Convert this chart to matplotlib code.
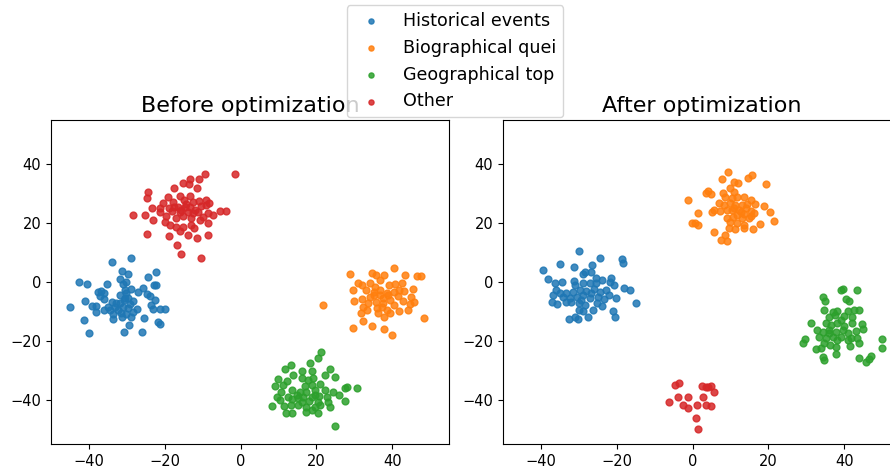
import matplotlib
matplotlib.use("Agg")
import matplotlib.pyplot as plt

categorie = ["Historical events", "Biographical quei", "Geographical top", "Other"]
colori = ["tab:blue", "tab:orange", "tab:green", "tab:red"]
titoli = ["Before optimization", "After optimization"]

# prima dell'ottimizzazione
prima_hist_x = [-28.8, -33.8, -31.4, -29.6, -22.4, -24.5, -42.7, -40.5, -35.1, -31.9, -31.0, -30.1,
                -22.9, -22.4, -25.7, -27.0, -28.8, -37.6, -36.7, -36.1, -37.2, -36.0, -24.7, -24.0,
                -30.5, -33.8, -31.7, -30.1, -29.7, -28.4, -41.1, -39.1, -38.1, -45.1, -35.0, -33.2,
                -32.3, -31.0, -29.7, -29.1, -31.9, -38.1, -36.0, -33.7, -31.5, -30.1, -28.4, -23.1,
                -21.3, -20.0, -22.6, -23.5, -41.3, -33.7, -31.2, -25.4, -21.7, -21.3, -29.3, -40.1,
                -30.7, -26.0, -30.6, -30.8, -32.8, -28.8, -34.5, -27.3]
prima_hist_y = [8.2, 6.9, 3.8, 2.8, 3.4, 1.7, -0.1, -0.6, -0.6, 1.1, -0.7, 0.0,
                -1.1, -1.0, -2.1, -3.3, -2.4, -3.3, -3.1, -3.6, -4.7, -5.8, -4.0, -4.7,
                -5.5, -6.9, -4.4, -3.8, -5.5, -6.3, -6.6, -8.0, -8.1, -8.5, -8.4, -8.4,
                -9.5, -8.4, -8.9, -7.6, -7.0, -10.1, -9.5, -10.8, -10.4, -10.8, -10.2, -9.3,
                -9.3, -9.3, -6.1, -7.8, -12.9, -12.7, -12.0, -12.3, -13.7, -14.4, -14.5, -17.4,
                -16.9, -16.9, -2.7, -6.1, -7.2, -11.8, -9.4, -9.2]

prima_bio_x = [28.9, 34.8, 35.7, 37.9, 40.4, 43.4, 46.5, 47.6, 30.9, 32.1, 34.2, 36.8,
               39.2, 40.8, 42.5, 29.8, 33.0, 35.1, 36.8, 38.6, 40.4, 43.2, 45.6, 30.0,
               32.0, 34.2, 35.8, 37.7, 39.5, 41.5, 42.8, 44.9, 45.8, 44.6, 21.8, 32.4,
               33.3, 31.7, 35.9, 37.2, 38.6, 40.4, 41.9, 44.3, 36.4, 37.9, 48.3, 32.4,
               34.6, 29.8, 37.9, 39.9, 35.1, 36.8, 39.0, 37.7, 35.5, 41.7, 33.7, 39.5]
prima_bio_y = [2.7, 2.9, 2.3, 2.5, 4.9, 2.5, 2.1, 2.1, -0.5, -1.1, -0.5, 0.7,
               -0.9, -0.7, -0.5, -2.7, -2.7, -3.3, -2.7, -3.6, -3.3, -2.9, -2.4, -6.3,
               -5.9, -5.0, -6.7, -5.5, -6.1, -4.7, -6.3, -5.0, -6.9, -7.5, -7.8, -8.4,
               -9.5, -10.6, -8.7, -8.4, -9.5, -7.8, -9.8, -9.5, -10.6, -12.0, -12.1, -13.1,
               -15.1, -15.7, -16.0, -18.1, -4.4, -4.4, -4.4, -7.2, -1.6, -2.7, -7.2, -10.6]

prima_geo_x = [21.2, 20.5, 18.3, 13.2, 11.7, 16.1, 18.9, 23.6, 22.3, 24.8, 13.9, 9.8,
               12.2, 16.1, 19.2, 9.0, 11.3, 13.7, 17.0, 18.8, 20.9, 27.5, 30.7, 28.0,
               10.8, 15.7, 17.4, 19.6, 22.3, 24.5, 26.0, 9.5, 12.6, 14.8, 16.6, 18.8,
               20.8, 22.8, 10.4, 13.5, 16.1, 18.1, 20.5, 23.2, 27.5, 8.2, 11.5, 13.2,
               15.2, 17.4, 19.6, 23.6, 12.0, 13.7, 17.4, 18.8, 20.5, 24.9, 15.2, 19.6,
               17.9, 21.0]
prima_geo_y = [-23.8, -25.9, -27.6, -28.1, -29.6, -30.1, -30.1, -29.7, -31.5, -32.1, -31.5, -32.9,
               -33.7, -32.5, -32.5, -35.3, -34.9, -36.6, -35.3, -34.9, -34.7, -36.0, -36.0, -35.5,
               -37.2, -37.2, -37.2, -36.6, -36.6, -37.2, -38.3, -38.9, -38.9, -38.3, -38.9, -39.1,
               -38.6, -38.9, -40.2, -39.8, -40.6, -40.3, -40.6, -40.6, -40.3, -42.0, -42.0, -41.7,
               -41.7, -42.6, -42.3, -42.5, -44.6, -44.5, -44.0, -43.6, -44.5, -49.0, -39.5, -38.3,
               -33.4, -41.7]

prima_altro_x = [-1.4, -9.5, -13.2, -10.9, -15.2, -13.7, -11.6, -17.6, -24.3, -24.8, -19.1, -15.9,
                 -13.2, -20.4, -17.8, -15.0, -12.5, -10.9, -9.0, -8.3, -23.3, -21.2, -18.9, -16.5,
                 -14.7, -13.4, -12.1, -10.5, -9.0, -21.3, -18.2, -15.6, -13.8, -11.2, -8.7, -7.2,
                 -5.5, -3.7, -28.4, -25.2, -23.1, -19.7, -16.9, -15.2, -13.0, -10.7, -8.5, -18.6,
                 -16.9, -15.2, -13.0, -12.3, -24.8, -18.9, -16.0, -13.8, -11.6, -8.7, -16.7, -15.7,
                 -10.4, -14.3, -16.0, -12.5, -9.9, -20.0, -17.6]
prima_altro_y = [36.8, 36.5, 35.1, 34.9, 33.7, 33.2, 31.8, 32.0, 30.5, 28.4, 28.8, 29.3,
                 29.2, 26.9, 27.2, 27.8, 27.2, 27.6, 27.8, 26.9, 25.2, 25.0, 25.0, 25.5,
                 25.5, 25.3, 24.6, 25.8, 26.3, 23.8, 24.1, 24.4, 23.8, 23.8, 23.5, 22.6,
                 24.2, 24.0, 22.7, 22.6, 21.2, 22.4, 21.6, 22.4, 21.6, 21.0, 20.1, 19.3,
                 18.8, 18.8, 19.3, 18.2, 16.3, 15.6, 17.4, 15.9, 15.0, 15.8, 12.4, 9.6,
                 8.2, 26.4, 23.8, 23.3, 22.1, 20.5, 25.5]

# dopo l'ottimizzazione
dopo_hist_x = [-29.9, -24.3, -18.6, -18.3, -34.9, -31.3, -26.4, -39.5, -29.0, -28.3, -26.7, -38.0,
               -34.5, -31.3, -25.5, -24.0, -21.4, -36.3, -31.0, -28.9, -27.1, -25.4, -21.9, -20.6,
               -18.1, -16.5, -35.9, -35.0, -33.3, -31.5, -29.7, -28.0, -26.0, -24.4, -22.7, -36.8,
               -34.2, -30.6, -28.9, -27.1, -24.9, -23.4, -22.0, -20.1, -37.1, -35.7, -33.5, -32.0,
               -30.0, -28.4, -25.2, -24.0, -15.0, -29.9, -28.9, -26.2, -20.9, -20.5, -32.6, -31.1,
               -30.3, -27.5, -29.3, -26.7, -32.4]
dopo_hist_y = [10.6, 8.1, 7.7, 6.3, 6.0, 5.1, 5.9, 4.0, 2.7, 3.3, 3.5, 1.1,
               0.1, 0.5, 1.5, 0.7, 1.2, -0.5, -1.0, -0.2, -0.5, -0.5, 0.1, -0.9,
               -2.0, -2.6, -2.7, -3.6, -3.8, -3.3, -2.7, -2.9, -2.4, -3.3, -2.7, -4.4,
               -5.0, -5.2, -4.4, -5.5, -5.0, -5.9, -4.5, -5.6, -6.7, -7.5, -6.9, -6.7,
               -7.2, -7.8, -7.0, -8.0, -7.2, -9.5, -9.8, -9.6, -9.8, -12.0, -12.5, -12.0,
               -12.5, -12.0, -6.1, -3.8, -5.5]

dopo_bio_x = [9.3, 15.8, 14.6, 7.9, 11.0, 12.1, 19.3, 10.0, 4.2, 3.5, 4.9, 8.0,
              10.9, -1.1, 8.6, 10.4, 11.7, 13.5, 15.3, 16.6, 6.9, 8.3, 9.9, 11.3,
              13.1, 18.8, 5.6, 7.2, 9.1, 10.4, 12.2, 14.2, 15.3, 5.1, 1.4, 20.4,
              11.7, 13.7, 15.5, 16.2, 9.1, 10.7, 13.1, 14.8, 21.4, -0.2, 0.7, 1.4,
              10.0, 11.7, 13.5, 17.9, 9.5, 11.3, 13.5, 16.0, 5.6, 8.6, 7.5, 9.1,
              10.9, 12.7, 14.4]
dopo_bio_y = [37.2, 36.4, 35.3, 34.8, 33.8, 33.7, 33.2, 31.8, 31.0, 30.1, 29.8, 30.3,
              30.6, 28.0, 28.7, 28.4, 28.7, 28.7, 27.8, 26.4, 26.7, 26.1, 26.7, 26.1,
              26.3, 25.8, 24.4, 24.1, 24.6, 24.4, 24.4, 25.0, 24.2, 23.8, 23.5, 23.6,
              22.7, 23.1, 22.4, 23.3, 21.6, 22.1, 21.6, 21.6, 20.8, 19.9, 19.9, 19.5,
              20.5, 19.9, 19.3, 19.7, 18.2, 17.9, 18.2, 17.9, 17.1, 15.9, 14.2, 13.9,
              25.0, 23.8, 26.6]

dopo_geo_x = [39.1, 39.8, 43.5, 34.5, 34.9, 40.4, 41.3, 34.8, 37.0, 38.2, 40.9, 42.7,
              44.0, 35.9, 37.7, 39.9, 42.1, 31.3, 35.3, 36.6, 38.2, 40.0, 42.2, 44.6,
              45.1, 32.9, 34.3, 36.0, 37.8, 39.8, 40.9, 43.1, 33.4, 35.3, 37.0, 39.1,
              41.8, 43.4, 29.6, 29.1, 49.9, 49.9, 34.7, 36.3, 37.8, 41.6, 44.0, 32.5,
              33.8, 37.8, 34.5, 34.8, 44.0, 45.8, 47.2, 46.5, 35.9, 38.2, 39.1, 40.9]
dopo_geo_y = [-2.7, -2.5, -2.8, -5.0, -6.3, -5.9, -6.4, -9.5, -10.1, -9.7, -9.9, -9.5,
              -9.5, -11.8, -11.2, -11.5, -12.0, -14.0, -14.0, -14.6, -14.0, -15.1, -14.0, -14.2,
              -15.9, -16.3, -16.9, -16.3, -16.9, -16.3, -17.4, -16.5, -18.6, -19.1, -18.6, -18.8,
              -18.9, -19.1, -19.4, -20.8, -19.4, -22.5, -20.8, -21.4, -21.9, -21.7, -20.8, -22.8,
              -22.5, -24.5, -25.3, -26.4, -25.8, -27.0, -25.1, -26.2, -17.4, -19.6, -12.9, -19.6]

dopo_altro_x = [-4.6, -3.5, 2.6, 3.5, 4.9, 5.6, 2.7, -3.8, -1.1, -6.1, -2.6, -1.2,
                1.3, 3.6, 4.9, 1.0, 1.4, 4.0]
dopo_altro_y = [-35.0, -34.4, -35.3, -35.5, -35.3, -37.4, -39.1, -39.2, -38.9, -40.7, -41.8, -42.8,
                -41.6, -41.7, -42.0, -46.2, -49.9, -35.8]


def disegna(ax, punti, titolo):
    for (xs, ys), nome, colore in zip(punti, categorie, colori):
        ax.scatter(xs, ys, s=24, color=colore, alpha=0.85, label=nome)
    ax.set_xlim(-50, 55)
    ax.set_ylim(-55, 55)
    ax.set_xticks([-40, -20, 0, 20, 40])
    ax.set_yticks([-40, -20, 0, 20, 40])
    ax.tick_params(labelsize=10.5)
    ax.set_title(titolo, fontsize=16)


def main():
    fig = plt.figure(figsize=(8.9, 4.7), dpi=100)
    ax1 = fig.add_axes([51 / 890, 26 / 470, 398 / 890, 324 / 470])
    ax2 = fig.add_axes([503 / 890, 26 / 470, 398 / 890, 324 / 470])

    prima = [(prima_hist_x, prima_hist_y), (prima_bio_x, prima_bio_y),
             (prima_geo_x, prima_geo_y), (prima_altro_x, prima_altro_y)]
    dopo = [(dopo_hist_x, dopo_hist_y), (dopo_bio_x, dopo_bio_y),
            (dopo_geo_x, dopo_geo_y), (dopo_altro_x, dopo_altro_y)]

    disegna(ax1, prima, titoli[0])
    disegna(ax2, dopo, titoli[1])

    handles, labels = ax1.get_legend_handles_labels()
    fig.legend(handles, labels, loc="upper center", bbox_to_anchor=(455 / 890, 1 - 5 / 470),
               borderaxespad=0, fontsize=12.6, markerscale=0.75)

    fig.savefig("out.png", dpi=100)


if __name__ == "__main__":
    main()
